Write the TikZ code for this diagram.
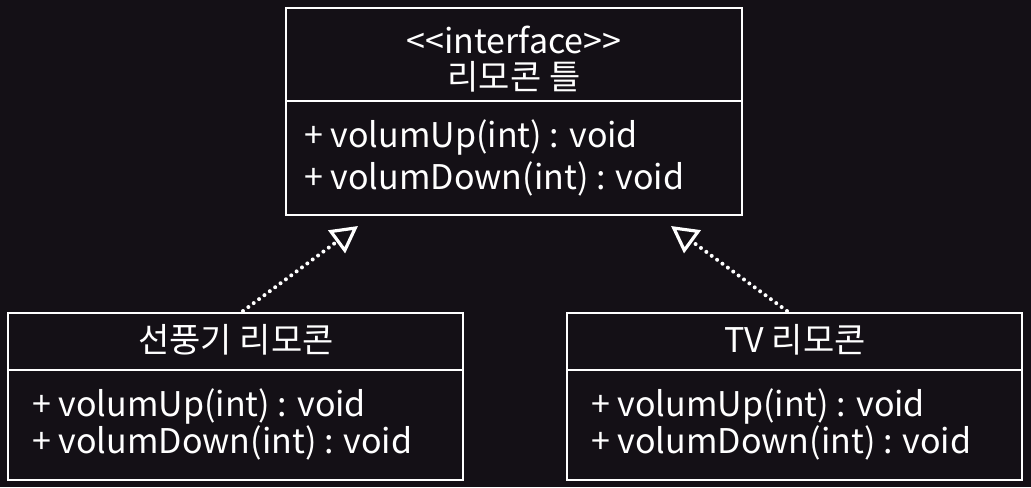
\documentclass[tikz,border=0pt]{standalone}
\usepackage{fontspec}
\setmainfont{Noto Sans CJK KR}
\usetikzlibrary{arrows.meta}
\definecolor{bgdark}{RGB}{20,16,22}
\tikzset{
  boxline/.style={draw=white, line width=2.2pt},
  umltext/.style={text=white, inner sep=0.75pt, font=\fontsize{25.5}{30}\selectfont},
  realize/.style={draw=white, line width=3pt, dash pattern={on 0pt off 5pt}, line cap=round,
    -{Triangle[open, length=20pt, width=21pt, line width=2.4pt, line cap=butt]}}
}

\begin{document}
\begin{tikzpicture}[x=0.75pt,y=0.75pt,yscale=-1,xscale=1]
%Shape: background
\fill [bgdark] (0,0) rectangle (1031,487);

%Shape: Rectangle (interface)
\draw [boxline] (286,8) rectangle (742,215);
\draw [boxline] (286,101) -- (742,101);
%Shape: Rectangle (fan remote)
\draw [boxline] (8,313) rectangle (463,480);
\draw [boxline] (8,370) -- (463,370);
%Shape: Rectangle (tv remote)
\draw [boxline] (567,313) rectangle (1022,480);
\draw [boxline] (567,370) -- (1022,370);

% Text Node
\node (stereo) [umltext] at (514,40) {{<}{<}interface{>}{>}};
% Text Node
\node (ifname) [umltext] at (514,77) {리모콘 틀};
% Text Node
\node (ifup) [umltext, anchor=west] at (303,137) {+ volumUp(int) : void};
% Text Node
\node (ifdown) [umltext, anchor=west] at (303,179) {+ volumDown(int) : void};

% Text Node
\node (fanname) [umltext] at (236,340) {선풍기 리모콘};
% Text Node
\node (fanup) [umltext, anchor=west] at (31,406) {+ volumUp(int) : void};
% Text Node
\node (fandown) [umltext, anchor=west] at (31,443) {+ volumDown(int) : void};

% Text Node
\node (tvname) [umltext] at (795,340) {TV 리모콘};
% Text Node
\node (tvup) [umltext, anchor=west] at (590,406) {+ volumUp(int) : void};
% Text Node
\node (tvdown) [umltext, anchor=west] at (590,443) {+ volumDown(int) : void};

%Connectors
\coordinate (fantop) at (243,311);
\coordinate (iftipl) at (358,226);
\coordinate (tvtop) at (787,311);
\coordinate (iftipr) at (671,226);
\draw [realize] (fantop) -- (iftipl);
\draw [realize] (tvtop) -- (iftipr);

\end{tikzpicture}
\end{document}
